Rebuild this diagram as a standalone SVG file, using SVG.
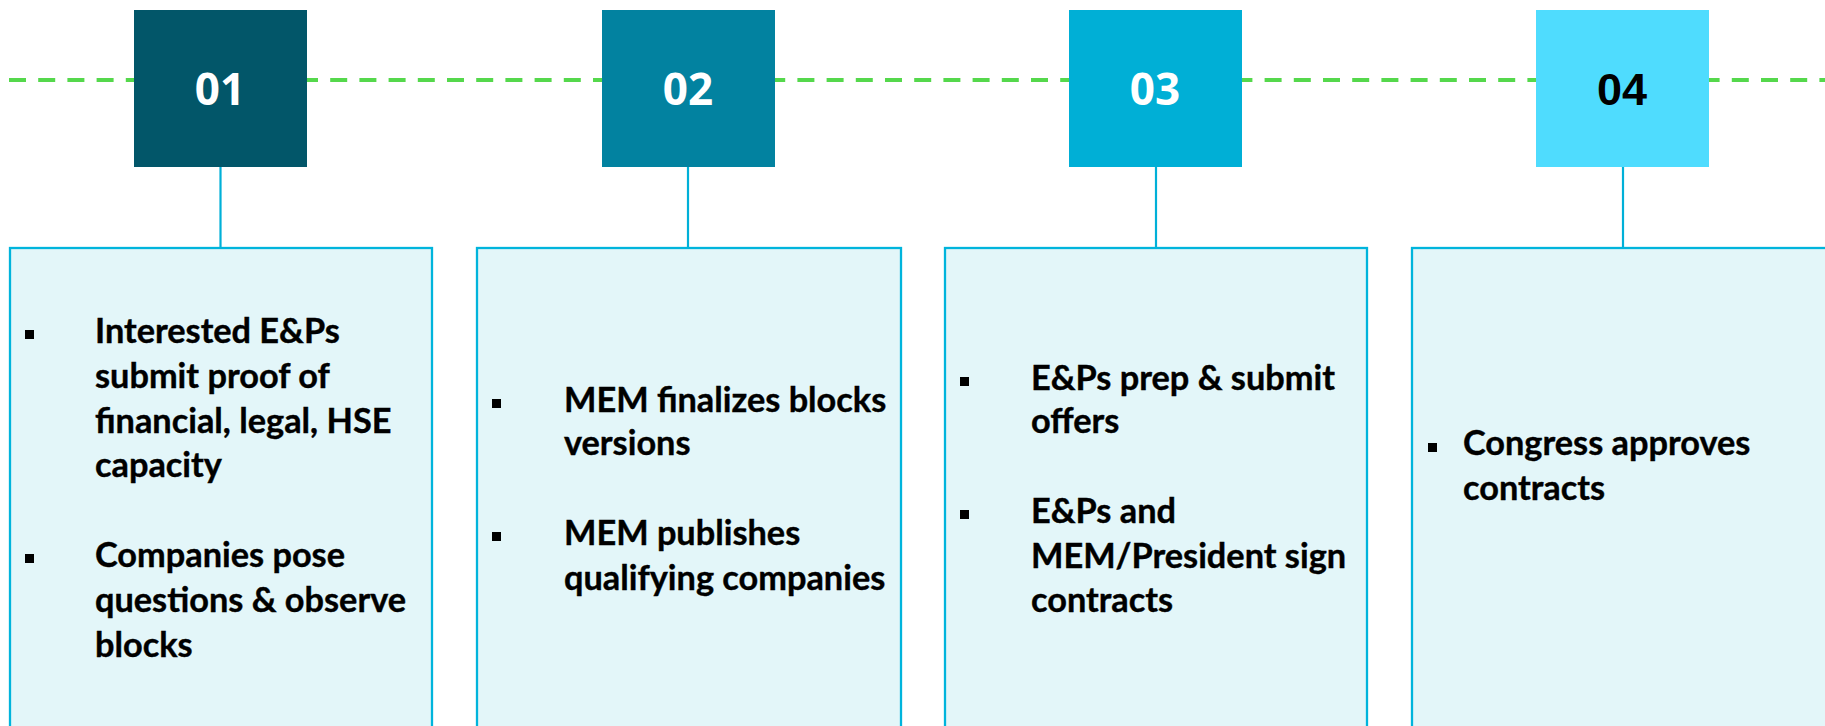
<svg xmlns="http://www.w3.org/2000/svg" width="1825" height="726" viewBox="0 0 1825 726">
<style>
.panel{fill:#e3f6f9;stroke:#00b4dc;stroke-width:2.3}
.conn{stroke:#00b0d8;stroke-width:2.2;fill:none}
.dash{stroke:#55d84c;stroke-width:4;stroke-dasharray:17 12.2;fill:none}
.num{font-family:"Open Sans","Noto Sans",sans-serif;font-weight:700;font-size:44px;fill:#ffffff;text-anchor:middle}
.num4{font-family:"Liberation Sans",Arial,sans-serif;font-weight:700;font-size:45px;fill:#000000;text-anchor:middle}
.t{font-family:Lato,"Open Sans",sans-serif;font-weight:700;font-size:34.3px;fill:#000000;stroke:#000000;stroke-width:0.4}
.b{fill:#000000}
</style>
<rect width="1825" height="726" fill="#ffffff"/>
<g id="timeline">
<line class="dash" x1="9" y1="80" x2="1825" y2="80"/>
</g>
<g id="connectors">
<line class="conn" x1="220.5" y1="167" x2="220.5" y2="248"/>
<line class="conn" x1="688" y1="167" x2="688" y2="248"/>
<line class="conn" x1="1156" y1="167" x2="1156" y2="248"/>
<line class="conn" x1="1623" y1="167" x2="1623" y2="248"/>
</g>
<g id="step1">
<rect x="134" y="10" width="173" height="157" fill="#025669"/>
<text class="num" x="220" y="105">01</text>
</g>
<g id="step2">
<rect x="602" y="10" width="173" height="157" fill="#0282a0"/>
<text class="num" x="688" y="105">02</text>
</g>
<g id="step3">
<rect x="1069" y="10" width="173" height="157" fill="#00afd6"/>
<text class="num" x="1155" y="105">03</text>
</g>
<g id="step4">
<rect x="1536" y="10" width="173" height="157" fill="#4fdcfe"/>
<text class="num4" x="1622" y="105">04</text>
</g>
<g id="panel1">
<rect class="panel" x="10" y="248" width="422" height="500"/>
<rect class="b" x="25" y="330" width="9" height="9"/>
<text class="t" x="95" y="343">Interested E&amp;Ps</text>
<text class="t" x="95" y="388">submit proof of</text>
<text class="t" x="95" y="433">financial, legal, HSE</text>
<text class="t" x="95" y="477">capacity</text>
<rect class="b" x="25" y="554" width="9" height="9"/>
<text class="t" x="95" y="567">Companies pose</text>
<text class="t" x="95" y="612">questions &amp; observe</text>
<text class="t" x="95" y="657">blocks</text>
</g>
<g id="panel2">
<rect class="panel" x="477" y="248" width="424" height="500"/>
<rect class="b" x="492" y="399" width="9" height="9"/>
<text class="t" x="564" y="412">MEM finalizes blocks</text>
<text class="t" x="564" y="455">versions</text>
<rect class="b" x="492" y="532" width="9" height="9"/>
<text class="t" x="564" y="545">MEM publishes</text>
<text class="t" x="564" y="590">qualifying companies</text>
</g>
<g id="panel3">
<rect class="panel" x="945" y="248" width="422" height="500"/>
<rect class="b" x="960" y="377" width="9" height="9"/>
<text class="t" x="1031" y="390">E&amp;Ps prep &amp; submit</text>
<text class="t" x="1031" y="433">offers</text>
<rect class="b" x="960" y="510" width="9" height="9"/>
<text class="t" x="1031" y="523">E&amp;Ps and</text>
<text class="t" x="1031" y="568">MEM/President sign</text>
<text class="t" x="1031" y="612">contracts</text>
</g>
<g id="panel4">
<rect class="panel" x="1412" y="248" width="422" height="500"/>
<rect class="b" x="1428" y="443" width="9" height="9"/>
<text class="t" x="1463" y="455">Congress approves</text>
<text class="t" x="1463" y="500">contracts</text>
</g>
</svg>
